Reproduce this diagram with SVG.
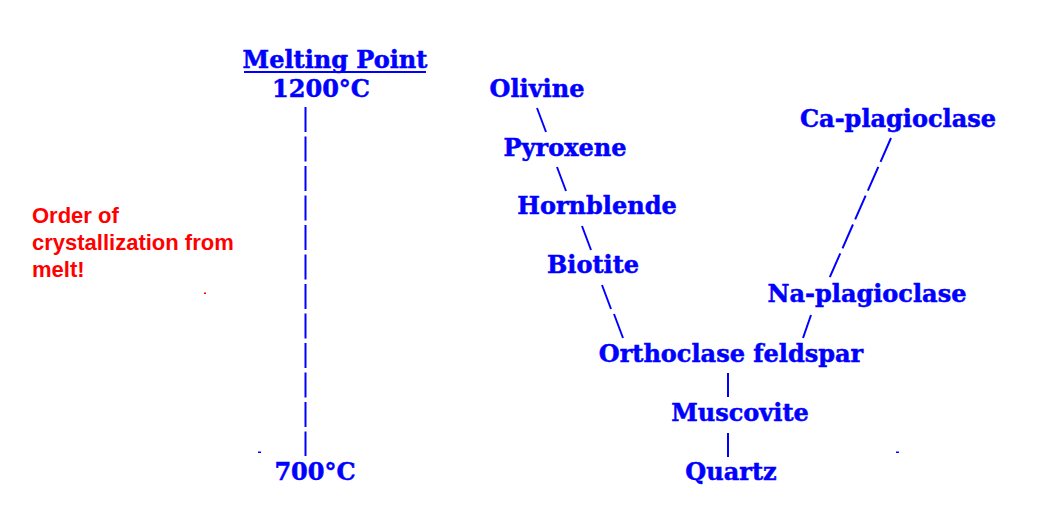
<svg xmlns="http://www.w3.org/2000/svg" width="1061" height="512" viewBox="0 0 1061 512">
<style>
.m{font-family:"DejaVu Serif","Liberation Serif",serif;font-weight:bold;font-size:24px;fill:#0000ff;stroke:#0000ff;stroke-width:0.5;text-anchor:middle}
.r{font-family:"Liberation Sans",Arial,sans-serif;font-weight:bold;font-size:22px;fill:#ff0000}
.c{stroke:#0000ff;stroke-width:2;fill:none}
</style>
<rect width="1061" height="512" fill="#ffffff"/>
<g id="header">
<text class="m" x="335" y="68">Melting Point</text>
<line x1="244" y1="72" x2="426" y2="72" stroke="#0000ff" stroke-width="2"/>
<text class="m" x="321" y="97">1200°C</text>
<text class="m" x="315" y="480">700°C</text>
</g>
<g id="note">
<text class="r" x="32" y="223">Order of</text>
<text class="r" x="32" y="250">crystallization from</text>
<text class="r" x="32" y="277">melt!</text>
</g>
<g id="olivine"><text class="m" x="537" y="97">Olivine</text></g>
<g id="pyroxene"><text class="m" x="565" y="156">Pyroxene</text></g>
<g id="hornblende"><text class="m" x="597" y="214">Hornblende</text></g>
<g id="biotite"><text class="m" x="593" y="273">Biotite</text></g>
<g id="ca-plagioclase"><text class="m" x="898" y="127">Ca-plagioclase</text></g>
<g id="na-plagioclase"><text class="m" x="867" y="302">Na-plagioclase</text></g>
<g id="orthoclase"><text class="m" x="731" y="362">Orthoclase feldspar</text></g>
<g id="muscovite"><text class="m" x="740" y="421">Muscovite</text></g>
<g id="quartz"><text class="m" x="731" y="480">Quartz</text></g>
<g id="connectors">
<line class="c" x1="305.5" y1="107" x2="305.5" y2="456" stroke-width="2.5" stroke-dasharray="25 4.5"/>
<line class="c" x1="537" y1="108" x2="546" y2="132"/>
<line class="c" x1="557" y1="167" x2="566" y2="191"/>
<line class="c" x1="582" y1="226" x2="591" y2="250"/>
<line class="c" x1="602" y1="285" x2="611" y2="309"/>
<line class="c" x1="614" y1="314" x2="623" y2="338"/>
<line class="c" x1="891" y1="138" x2="829" y2="279" stroke-dasharray="26 5.5"/>
<line class="c" x1="811" y1="315" x2="803" y2="338"/>
<line class="c" x1="728" y1="373" x2="728" y2="397"/>
<line class="c" x1="728" y1="433" x2="728" y2="457"/>
</g>
<rect x="258" y="451.5" width="3" height="1.5" fill="#0000ff"/>
<rect x="896" y="451.5" width="3" height="1.5" fill="#0000ff"/>
<rect x="204" y="292.5" width="2" height="1.5" fill="#ff0000"/>
</svg>
